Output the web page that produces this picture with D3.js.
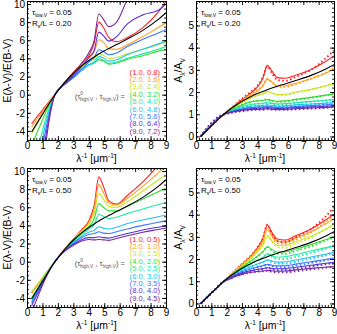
<!DOCTYPE html>
<html>
<head>
<meta charset="utf-8">
<script src="https://cdn.jsdelivr.net/npm/d3@7"></script>
<style>
  body { margin: 0; background: #fff; }
  svg { display: block; font-family: "Liberation Sans", Arial, sans-serif; }
</style>
</head>
<body>
<div id="viz"></div>
<script>

// wavenumber grid (1/lambda, micron^-1) the curves were read at
var waveGrid = [0.3, 0.6, 1.0, 1.2, 1.4, 1.6, 1.8, 2.2, 2.6, 3.0, 3.5, 4.0, 4.35, 4.65, 4.95, 5.3, 5.8, 6.5, 7.5, 8.5, 9.0];

var colors = ["#ff2020", "#ffa020", "#c8e620", "#30dc30", "#20e8a0", "#20c4f0", "#3c78ff", "#5a30d8", "#7a2a9a"];

var legendTop = ["(1.0, 0.8)", "(2.0, 1.6)", "(3.0, 2.4)", "(4.0, 3.2)", "(5.0, 4.0)", "(6.0, 4.8)", "(7.0, 5.6)", "(8.0, 6.4)", "(9.0, 7.2)"];
var legendBot = ["(1.0, 0.5)", "(2.0, 1.0)", "(3.0, 1.5)", "(4.0, 2.0)", "(5.0, 2.5)", "(6.0, 3.0)", "(7.0, 3.5)", "(8.0, 4.0)", "(9.0, 4.5)"];

var xTicks = [0, 1, 2, 3, 4, 5, 6, 7, 8, 9];
var eTicks = [-4, -2, 0, 2, 4, 6, 8, 10];
var aTicks = [0, 1, 2, 3, 4, 5];

// black reference curve
var calzE = [-4.11, -3.28, -2.17, -1.62, -1.07, -0.53, -0.05, 0.86, 1.65, 2.36, 3.12, 3.77, 4.16, 4.48, 4.78, 5.10, 5.53, 6.14, 7.09, 8.30, 9.04];
var calzA = [-0.015, 0.19, 0.464, 0.6, 0.736, 0.87, 0.988, 1.212, 1.407, 1.583, 1.77, 1.931, 2.028, 2.106, 2.18, 2.259, 2.365, 2.516, 2.75, 3.05, 3.23];

// E(l-V)/E(B-V), Rs/L = 0.20
var eTop = [
  [-3.2, -2.55, -1.7, -1.25, -0.82, -0.4, 0, 0.9, 1.7, 2.45, 3.35, 4.3, 5.7, 8.0, 7.4, 6.3, 5.85, 6.3, 7.4, 9.1, 10.3],
  [-3.55, -2.85, -1.9, -1.4, -0.92, -0.45, 0, 0.88, 1.65, 2.4, 3.25, 4.0, 4.7, 6.05, 5.8, 5.05, 5.0, 5.5, 6.4, 7.4, 7.9],
  [-4.3, -3.4, -2.2, -1.6, -1.05, -0.5, 0, 0.86, 1.55, 2.2, 3.0, 3.6, 3.95, 4.5, 4.35, 4.0, 4.1, 4.5, 5.0, 5.5, 5.8],
  [-5.8, -4.4, -2.8, -2.0, -1.3, -0.6, 0, 0.84, 1.45, 2.0, 2.75, 3.3, 3.5, 3.85, 3.7, 3.35, 3.5, 3.9, 4.3, 4.8, 5.0],
  [-8, -6.5, -4.0, -2.75, -1.7, -0.8, 0, 0.82, 1.4, 1.9, 2.65, 3.25, 3.5, 3.95, 3.8, 3.45, 3.6, 4.0, 4.5, 5.0, 5.3],
  [-10, -8, -4.9, -3.3, -2.0, -0.9, 0, 0.8, 1.35, 1.85, 2.6, 3.3, 3.65, 4.2, 4.05, 3.7, 3.85, 4.4, 5.0, 5.6, 5.9],
  [-12, -9.5, -5.8, -4.0, -2.4, -1.05, 0, 0.8, 1.35, 1.9, 2.75, 3.6, 4.1, 4.95, 4.75, 4.4, 4.6, 5.3, 6.1, 6.8, 7.2],
  [-15, -12, -7.5, -4.8, -2.8, -1.2, 0, 0.8, 1.4, 2.05, 3.05, 4.1, 4.9, 6.9, 6.5, 5.9, 6.4, 7.8, 8.8, 9.3, 10.0],
  [-18, -15, -9.5, -5.8, -3.2, -1.3, 0, 0.82, 1.5, 2.25, 3.4, 4.6, 6.0, 8.9, 8.3, 7.5, 8.0, 10.5, 13, 15, 16]
];

// E(l-V)/E(B-V), Rs/L = 0.50
var eBot = [
  [-3.45, -2.75, -1.85, -1.37, -0.9, -0.44, 0, 0.9, 1.72, 2.5, 3.45, 4.5, 6.2, 9.35, 8.3, 6.7, 6.35, 7.3, 8.8, 10.6, 11.5],
  [-3.4, -2.72, -1.82, -1.35, -0.89, -0.43, 0, 0.88, 1.68, 2.45, 3.35, 4.3, 5.8, 8.5, 7.6, 6.45, 6.25, 7.0, 8.3, 9.8, 10.5],
  [-3.3, -2.65, -1.78, -1.32, -0.87, -0.43, 0, 0.87, 1.65, 2.4, 3.25, 4.15, 5.3, 7.55, 6.9, 6.1, 6.0, 6.6, 7.8, 9.0, 9.6],
  [-4.0, -3.15, -2.05, -1.5, -0.97, -0.47, 0, 0.86, 1.6, 2.3, 3.1, 3.85, 4.7, 6.4, 6.0, 5.6, 5.6, 6.1, 6.9, 7.7, 8.1],
  [-4.2, -3.3, -2.15, -1.56, -1.0, -0.48, 0, 0.85, 1.55, 2.2, 2.95, 3.6, 4.1, 5.2, 5.0, 4.75, 4.9, 5.3, 5.8, 6.3, 6.55],
  [-4.4, -3.45, -2.25, -1.63, -1.04, -0.5, 0, 0.83, 1.5, 2.1, 2.75, 3.25, 3.45, 3.85, 3.7, 3.6, 3.8, 4.2, 4.6, 4.95, 5.15],
  [-4.6, -3.6, -2.35, -1.7, -1.08, -0.52, 0, 0.82, 1.45, 2.0, 2.6, 3.0, 3.1, 3.3, 3.15, 3.1, 3.3, 3.6, 4.0, 4.35, 4.5],
  [-4.85, -3.8, -2.45, -1.77, -1.12, -0.54, 0, 0.8, 1.4, 1.9, 2.4, 2.65, 2.65, 2.75, 2.65, 2.6, 2.8, 3.1, 3.5, 3.8, 3.95],
  [-5.6, -4.3, -2.6, -1.86, -1.17, -0.56, 0, 0.78, 1.35, 1.8, 2.25, 2.45, 2.4, 2.45, 2.4, 2.35, 2.55, 2.85, 3.25, 3.55, 3.7]
];

// A_l/A_V, Rs/L = 0.20 (solid lines and dotted points)
var aTopLine = [
  [0, 0.2, 0.47, 0.61, 0.745, 0.875, 0.99, 1.22, 1.44, 1.66, 1.92, 2.22, 2.6, 3.2, 2.95, 2.65, 2.62, 2.76, 3.02, 3.4, 3.63],
  [0, 0.2, 0.47, 0.61, 0.745, 0.875, 0.99, 1.21, 1.41, 1.6, 1.82, 2.04, 2.27, 2.58, 2.45, 2.27, 2.28, 2.4, 2.6, 2.86, 3.02],
  [0, 0.2, 0.48, 0.62, 0.75, 0.88, 0.99, 1.19, 1.36, 1.52, 1.7, 1.84, 1.91, 2.01, 1.96, 1.89, 1.9, 2.0, 2.12, 2.28, 2.37],
  [0, 0.21, 0.48, 0.62, 0.75, 0.88, 0.99, 1.16, 1.3, 1.42, 1.54, 1.6, 1.62, 1.66, 1.62, 1.58, 1.6, 1.67, 1.76, 1.86, 1.91],
  [0, 0.21, 0.49, 0.63, 0.76, 0.885, 0.99, 1.14, 1.25, 1.35, 1.43, 1.47, 1.48, 1.52, 1.49, 1.46, 1.48, 1.52, 1.58, 1.63, 1.66],
  [0, 0.22, 0.5, 0.64, 0.77, 0.89, 0.99, 1.12, 1.21, 1.29, 1.35, 1.38, 1.39, 1.42, 1.39, 1.37, 1.38, 1.42, 1.46, 1.5, 1.52],
  [0, 0.22, 0.51, 0.65, 0.78, 0.89, 0.99, 1.1, 1.18, 1.24, 1.3, 1.32, 1.33, 1.35, 1.33, 1.31, 1.32, 1.35, 1.39, 1.43, 1.45],
  [0, 0.23, 0.52, 0.66, 0.79, 0.895, 0.99, 1.08, 1.15, 1.2, 1.25, 1.27, 1.28, 1.3, 1.28, 1.26, 1.27, 1.3, 1.33, 1.36, 1.38],
  [0, 0.24, 0.53, 0.67, 0.8, 0.9, 0.99, 1.07, 1.13, 1.17, 1.21, 1.22, 1.23, 1.25, 1.23, 1.22, 1.22, 1.25, 1.28, 1.31, 1.33]
];
var aTopDot = [
  [0, 0.2, 0.47, 0.61, 0.745, 0.875, 0.99, 1.23, 1.46, 1.7, 1.97, 2.28, 2.65, 3.15, 2.85, 2.55, 2.5, 2.68, 3.0, 3.55, 3.87],
  [0, 0.2, 0.48, 0.62, 0.75, 0.88, 0.99, 1.21, 1.42, 1.62, 1.85, 2.07, 2.3, 2.6, 2.43, 2.24, 2.22, 2.35, 2.6, 2.9, 3.07],
  [0, 0.21, 0.49, 0.63, 0.76, 0.885, 0.99, 1.19, 1.37, 1.54, 1.72, 1.86, 1.93, 2.03, 1.95, 1.87, 1.86, 1.96, 2.1, 2.29, 2.4],
  [0, 0.22, 0.5, 0.64, 0.77, 0.89, 0.99, 1.16, 1.3, 1.43, 1.55, 1.61, 1.63, 1.68, 1.62, 1.56, 1.57, 1.64, 1.74, 1.86, 1.93],
  [0, 0.23, 0.52, 0.66, 0.79, 0.9, 0.99, 1.13, 1.24, 1.34, 1.43, 1.47, 1.48, 1.52, 1.48, 1.44, 1.45, 1.5, 1.56, 1.63, 1.67],
  [0, 0.24, 0.54, 0.68, 0.81, 0.91, 0.99, 1.11, 1.2, 1.28, 1.34, 1.37, 1.38, 1.41, 1.38, 1.35, 1.36, 1.4, 1.44, 1.5, 1.53],
  [0, 0.25, 0.56, 0.7, 0.83, 0.92, 0.99, 1.09, 1.17, 1.23, 1.28, 1.3, 1.31, 1.33, 1.31, 1.29, 1.3, 1.33, 1.37, 1.42, 1.45],
  [0, 0.27, 0.58, 0.72, 0.85, 0.93, 0.99, 1.07, 1.13, 1.18, 1.22, 1.24, 1.25, 1.27, 1.25, 1.24, 1.24, 1.27, 1.3, 1.34, 1.37],
  [0, 0.29, 0.6, 0.74, 0.87, 0.94, 0.99, 1.05, 1.1, 1.14, 1.18, 1.2, 1.2, 1.22, 1.21, 1.2, 1.2, 1.22, 1.25, 1.29, 1.32]
];

// A_l/A_V, Rs/L = 0.50
var aBotLine = [
  [-0.01, 0.19, 0.465, 0.6, 0.737, 0.87, 0.99, 1.24, 1.5, 1.76, 2.08, 2.5, 2.9, 3.52, 3.2, 2.9, 2.85, 3.05, 3.35, 3.78, 4.02],
  [-0.01, 0.19, 0.465, 0.6, 0.737, 0.87, 0.99, 1.23, 1.48, 1.73, 2.04, 2.42, 2.78, 3.35, 3.05, 2.8, 2.76, 2.95, 3.23, 3.6, 3.82],
  [-0.01, 0.19, 0.465, 0.6, 0.737, 0.87, 0.99, 1.22, 1.46, 1.69, 1.98, 2.32, 2.62, 3.05, 2.82, 2.62, 2.6, 2.78, 3.03, 3.35, 3.55],
  [-0.01, 0.19, 0.465, 0.6, 0.737, 0.87, 0.99, 1.2, 1.42, 1.62, 1.87, 2.12, 2.32, 2.55, 2.43, 2.32, 2.32, 2.45, 2.65, 2.88, 3.0],
  [-0.01, 0.19, 0.465, 0.6, 0.737, 0.87, 0.99, 1.18, 1.38, 1.55, 1.75, 1.95, 2.07, 2.24, 2.16, 2.08, 2.1, 2.2, 2.36, 2.52, 2.6],
  [-0.01, 0.19, 0.465, 0.6, 0.737, 0.87, 0.99, 1.16, 1.34, 1.48, 1.64, 1.78, 1.86, 1.96, 1.91, 1.86, 1.87, 1.96, 2.09, 2.23, 2.3],
  [-0.01, 0.19, 0.465, 0.6, 0.737, 0.87, 0.99, 1.14, 1.3, 1.42, 1.54, 1.64, 1.7, 1.76, 1.72, 1.69, 1.7, 1.77, 1.88, 1.99, 2.05],
  [-0.01, 0.19, 0.465, 0.6, 0.737, 0.87, 0.99, 1.12, 1.26, 1.36, 1.46, 1.53, 1.57, 1.61, 1.58, 1.56, 1.57, 1.63, 1.72, 1.81, 1.85],
  [-0.01, 0.19, 0.465, 0.6, 0.737, 0.87, 0.99, 1.1, 1.22, 1.31, 1.39, 1.44, 1.46, 1.49, 1.47, 1.45, 1.46, 1.51, 1.58, 1.64, 1.66]
];
var aBotDot = [
  [-0.01, 0.19, 0.465, 0.6, 0.737, 0.87, 0.99, 1.25, 1.52, 1.78, 2.1, 2.52, 2.92, 3.55, 3.15, 2.82, 2.76, 2.98, 3.35, 3.95, 4.35],
  [-0.01, 0.19, 0.465, 0.6, 0.737, 0.87, 0.99, 1.24, 1.5, 1.75, 2.06, 2.44, 2.8, 3.38, 3.0, 2.72, 2.67, 2.87, 3.2, 3.7, 3.95],
  [-0.01, 0.19, 0.465, 0.6, 0.737, 0.87, 0.99, 1.23, 1.47, 1.7, 1.99, 2.33, 2.62, 3.05, 2.78, 2.54, 2.51, 2.69, 2.97, 3.38, 3.6],
  [-0.01, 0.19, 0.465, 0.6, 0.737, 0.87, 0.99, 1.21, 1.43, 1.63, 1.87, 2.12, 2.32, 2.55, 2.38, 2.24, 2.23, 2.36, 2.57, 2.85, 2.98],
  [-0.01, 0.19, 0.465, 0.6, 0.737, 0.87, 0.99, 1.19, 1.39, 1.56, 1.75, 1.95, 2.06, 2.22, 2.11, 2.0, 2.0, 2.1, 2.27, 2.47, 2.57],
  [-0.01, 0.19, 0.465, 0.6, 0.737, 0.87, 0.99, 1.17, 1.35, 1.49, 1.64, 1.77, 1.85, 1.94, 1.86, 1.79, 1.79, 1.88, 2.02, 2.18, 2.27],
  [-0.01, 0.19, 0.465, 0.6, 0.737, 0.87, 0.99, 1.15, 1.31, 1.43, 1.54, 1.63, 1.68, 1.74, 1.68, 1.63, 1.63, 1.7, 1.82, 1.95, 2.03],
  [-0.01, 0.19, 0.465, 0.6, 0.737, 0.87, 0.99, 1.13, 1.27, 1.37, 1.46, 1.52, 1.55, 1.59, 1.54, 1.5, 1.5, 1.56, 1.66, 1.77, 1.83],
  [-0.01, 0.19, 0.465, 0.6, 0.737, 0.87, 0.99, 1.11, 1.23, 1.31, 1.38, 1.43, 1.45, 1.47, 1.43, 1.4, 1.4, 1.45, 1.53, 1.61, 1.65]
];

var width = 337, height = 334;
var svg = d3.select("#viz").append("svg")
  .attr("width", width)
  .attr("height", height);

// text with sub/superscripts: parts = [[text, ""|"sub"|"sup", dx]]
function rich(t, parts, fs) {
  var shift = 0;
  parts.forEach(p => {
    var s = p[1] == "sub" ? 0.28 * fs : p[1] == "sup" ? -0.4 * fs : 0;
    t.append("tspan")
      .attr("dy", s - shift)
      .attr("dx", p[2] || 0)
      .attr("font-size", p[1] ? fs * 0.62 : fs)
      .text(p[0]);
    shift = s;
  });
  return t;
}

var minorX = d3.range(0, 9.001, 0.2);

function panel(cfg, idx) {
  var x = d3.scaleLinear().domain([0, 9]).range([cfg.left, cfg.right]);
  var y = d3.scaleLinear().domain(cfg.yDomain).range([cfg.bottom, cfg.top]);
  var g = svg.append("g");

  var clipId = "clip" + idx;
  g.append("clipPath").attr("id", clipId)
    .append("rect")
    .attr("x", x(0)).attr("y", y(cfg.yDomain[1]))
    .attr("width", x(9) - x(0)).attr("height", y(cfg.yDomain[0]) - y(cfg.yDomain[1]));

  var line = d3.line()
    .x((d, i) => x(waveGrid[i]))
    .y(d => y(d))
    .curve(d3.curveMonotoneX);

  var plot = g.append("g").attr("clip-path", "url(#" + clipId + ")");

  plot.selectAll("path.model")
    .data(cfg.lines)
    .enter()
    .append("path")
    .attr("class", "model")
    .attr("d", line)
    .attr("fill", "none")
    .attr("stroke", (d, i) => colors[i])
    .attr("stroke-width", 1.1);

  if (cfg.dots) {
    plot.selectAll("path.dots")
      .data(cfg.dots)
      .enter()
      .append("path")
      .attr("class", "dots")
      .attr("d", line)
      .attr("fill", "none")
      .attr("stroke", (d, i) => colors[i])
      .attr("stroke-width", 1.8)
      .attr("stroke-dasharray", "1.6 2.4");
  }

  plot.append("path")
    .attr("d", line(cfg.black))
    .attr("fill", "none")
    .attr("stroke", "#000")
    .attr("stroke-width", 1.1);

  // axes, ticks pointing inwards on all four sides
  var yMinor = d3.range(cfg.yTicks[0] - cfg.yStep, cfg.yDomain[1], cfg.yMinorStep).filter(v => v >= cfg.yDomain[0] - 1e-9);

  function ax(a, tx, ty, ticks, size, labels) {
    var sel = g.append("g")
      .attr("transform", "translate(" + tx + "," + ty + ")")
      .call(a.tickValues(ticks).tickSizeInner(-size).tickSizeOuter(0).tickPadding(2)
        .tickFormat(labels ? (d => String(d)) : ""));
    sel.selectAll("text").attr("font-size", 10).attr("fill", "#000").attr("font-family", null);
    sel.selectAll("line, path").attr("stroke", "#000").attr("stroke-width", 0.9);
    return sel;
  }

  ax(d3.axisBottom(x), 0, cfg.bottom, xTicks, 4, true);
  ax(d3.axisBottom(x), 0, cfg.bottom, minorX, 2, false);
  ax(d3.axisTop(x), 0, cfg.top, xTicks, 4, false);
  ax(d3.axisTop(x), 0, cfg.top, minorX, 2, false);
  ax(d3.axisLeft(y), cfg.left, 0, cfg.yTicks, 4, true);
  ax(d3.axisLeft(y), cfg.left, 0, yMinor, 2, false);
  ax(d3.axisRight(y), cfg.right, 0, cfg.yTicks, 4, false);
  ax(d3.axisRight(y), cfg.right, 0, yMinor, 2, false);

  // axis titles
  rich(g.append("text")
    .attr("x", (cfg.left + cfg.right) / 2)
    .attr("y", cfg.bottom + 22)
    .attr("text-anchor", "middle"),
    [["λ", ""], ["-1", "sup"], [" [μm", ""], ["-1", "sup"], ["]", ""]], 10.5);

  rich(g.append("text")
    .attr("transform", "translate(" + cfg.titleX + "," + ((cfg.top + cfg.bottom) / 2) + ") rotate(-90)")
    .attr("text-anchor", "middle"),
    cfg.yTitle, 10.5);

  // parameter notes
  var nx = cfg.left + 5;
  rich(g.append("text").attr("x", nx).attr("y", cfg.top + 14),
    [["τ", ""], ["low,V", "sub"], [" = 0.05", ""]], 8);
  rich(g.append("text").attr("x", nx).attr("y", cfg.top + 24.5),
    [["R", ""], ["s", "sub"], ["/L = " + cfg.ratio, ""]], 8);

  if (cfg.legend) {
    g.selectAll("text.leg")
      .data(cfg.legend)
      .enter()
      .append("text")
      .attr("class", "leg")
      .attr("x", cfg.right - 6)
      .attr("y", (d, i) => cfg.top + 73.5 + 7.4 * i)
      .attr("text-anchor", "end")
      .attr("font-size", 7.6)
      .attr("fill", (d, i) => colors[i])
      .text(d => d);

    rich(g.append("text")
      .attr("x", cfg.right - 41)
      .attr("y", cfg.top + 97.5)
      .attr("text-anchor", "end")
      .attr("fill", "#555"),
      [["(τ", ""], ["0", "sup"], ["high,V", "sub", -2.9], [" , τ", ""], ["high,V", "sub"], [") =", ""]], 7.6);
  }
}

var eTitle = [["E(λ-V)/E(B-V)", ""]];
var aTitle = [["A", ""], ["λ", "sub"], ["/A", ""], ["V", "sub"]];

panel({left: 27, right: 166, top: 1, bottom: 140, yDomain: [-5, 10.33], yTicks: eTicks, yStep: 2, yMinorStep: 0.5,
  lines: eTop, black: calzE, legend: legendTop, ratio: "0.20", yTitle: eTitle, titleX: 11}, 0);
panel({left: 196, right: 334, top: 1, bottom: 140, yDomain: [-0.16, 6.1], yTicks: aTicks, yStep: 1, yMinorStep: 0.2,
  lines: aTopLine, dots: aTopDot, black: calzA, ratio: "0.20", yTitle: aTitle, titleX: 182}, 1);
panel({left: 27, right: 166, top: 168, bottom: 307, yDomain: [-5, 10.33], yTicks: eTicks, yStep: 2, yMinorStep: 0.5,
  lines: eBot, black: calzE, legend: legendBot, ratio: "0.50", yTitle: eTitle, titleX: 11}, 2);
panel({left: 196, right: 334, top: 168, bottom: 307, yDomain: [-0.16, 6.1], yTicks: aTicks, yStep: 1, yMinorStep: 0.2,
  lines: aBotLine, dots: aBotDot, black: calzA, ratio: "0.50", yTitle: aTitle, titleX: 182}, 3);

</script>
</body>
</html>
